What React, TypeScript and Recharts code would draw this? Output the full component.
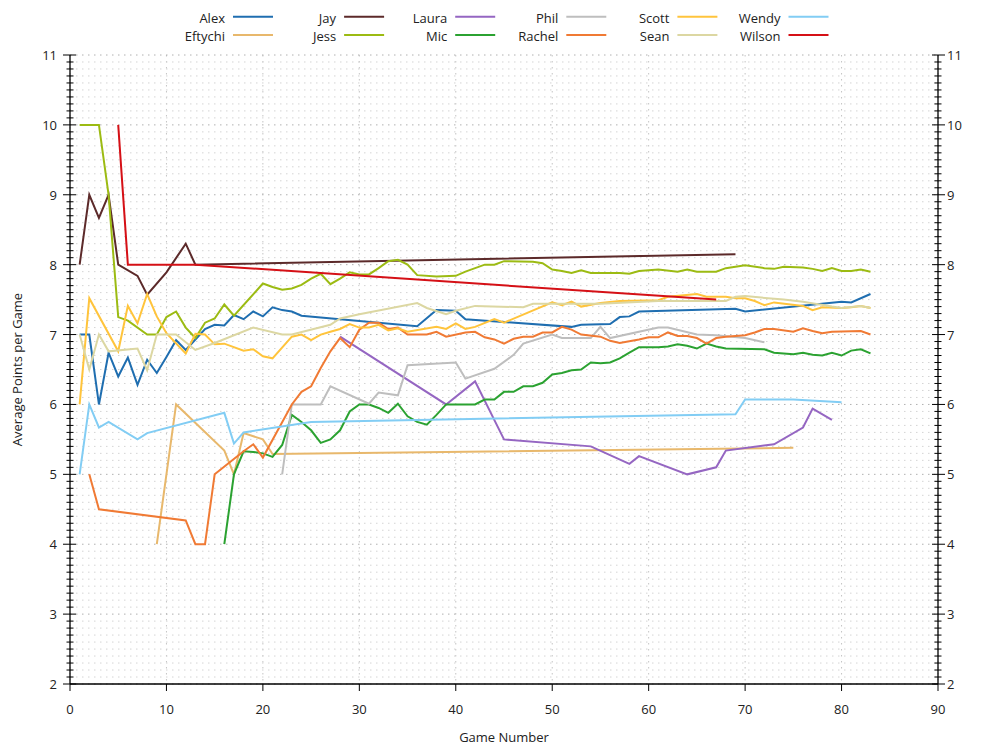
import React from 'react';
import { LineChart, Line, XAxis, YAxis, CartesianGrid, ReferenceLine, Label } from 'recharts';

type P = [number, number];

const ALEX: P[] = [[1,7.0],[2,7.0],[3,6.0],[4,6.74],[5,6.4],[6,6.67],[7,6.28],[8,6.64],[9,6.45],[10,6.68],[11,6.92],[12,6.78],[13,6.93],[14,7.08],[15,7.14],[16,7.13],[17,7.28],[18,7.22],[19,7.33],[20,7.26],[21,7.39],[22,7.35],[23,7.33],[24,7.27],[36,7.12],[38,7.35],[40,7.34],[41,7.22],[52,7.11],[53,7.14],[56,7.15],[57,7.25],[58,7.26],[59,7.33],[69,7.37],[70,7.33],[80,7.47],[81,7.46],[83,7.58]];
const EFTYCHI: P[] = [[9,4.0],[11,6.0],[16,5.34],[17,5.0],[18,5.59],[20,5.5],[21,5.29],[75,5.38]];
const JAY: P[] = [[1,8.0],[2,9.0],[3,8.67],[4,9.0],[5,8.0],[7,7.84],[8,7.57],[10,7.89],[12,8.3],[13,8.0],[69,8.15]];
const JESS: P[] = [[1,10],[2,10],[3,10],[4,9.0],[5,7.25],[6,7.2],[8,7.0],[9,7.0],[10,7.25],[11,7.33],[12,7.1],[13,6.95],[14,7.17],[15,7.23],[16,7.43],[17,7.27],[20,7.73],[21,7.68],[22,7.64],[23,7.66],[24,7.71],[25,7.8],[26,7.87],[27,7.72],[28,7.8],[29,7.89],[30,7.86],[31,7.86],[32,7.95],[33,8.05],[34,8.07],[35,8.0],[36,7.85],[38,7.83],[40,7.84],[41,7.9],[43,8.0],[44,8.0],[45,8.05],[48,8.04],[49,8.02],[50,7.93],[51,7.91],[52,7.88],[53,7.92],[54,7.88],[55,7.88],[57,7.88],[58,7.87],[59,7.91],[61,7.93],[63,7.9],[64,7.93],[65,7.9],[67,7.9],[68,7.95],[70,7.99],[72,7.95],[73,7.94],[74,7.97],[76,7.96],[77,7.94],[78,7.91],[79,7.95],[80,7.91],[81,7.91],[82,7.93],[83,7.9]];
const LAURA: P[] = [[28,6.97],[39,6.0],[42,6.33],[45,5.5],[54,5.4],[58,5.15],[59,5.26],[64,5.0],[67,5.1],[68,5.34],[73,5.43],[76,5.67],[77,5.94],[79,5.78]];
const MIC: P[] = [[16,4.0],[17,5.0],[18,5.33],[19,5.32],[20,5.3],[21,5.25],[22,5.42],[23,5.85],[24,5.75],[25,5.63],[26,5.45],[27,5.5],[28,5.63],[29,5.9],[30,6.0],[31,6.0],[32,5.95],[33,5.88],[34,6.01],[35,5.83],[36,5.75],[37,5.71],[38,5.85],[39,6.0],[42,6.0],[43,6.07],[44,6.07],[45,6.18],[46,6.18],[47,6.26],[48,6.26],[49,6.31],[50,6.43],[51,6.45],[52,6.49],[53,6.5],[54,6.6],[55,6.59],[56,6.6],[57,6.66],[58,6.74],[59,6.82],[61,6.82],[62,6.83],[63,6.86],[64,6.84],[65,6.8],[66,6.87],[67,6.83],[68,6.8],[72,6.79],[73,6.74],[75,6.72],[76,6.74],[77,6.71],[78,6.7],[79,6.74],[80,6.7],[81,6.77],[82,6.79],[83,6.73]];
const PHIL: P[] = [[22,5.0],[23,6.0],[26,6.0],[27,6.26],[31,6.01],[32,6.17],[34,6.13],[35,6.56],[40,6.6],[41,6.37],[44,6.51],[46,6.71],[47,6.87],[50,7.0],[51,6.95],[54,6.95],[55,7.11],[56,6.95],[61,7.1],[62,7.1],[65,7.0],[67,6.99],[70,6.95],[72,6.89]];
const RACHEL: P[] = [[2,5.0],[3,4.5],[12,4.34],[13,4.0],[14,4.0],[15,5.0],[18,5.33],[19,5.43],[20,5.24],[23,6.0],[24,6.18],[25,6.26],[26,6.52],[27,6.76],[28,6.95],[29,6.82],[30,7.07],[31,7.17],[32,7.17],[33,7.08],[34,7.1],[35,7.0],[37,7.0],[38,7.04],[39,6.97],[41,7.03],[42,7.04],[43,6.96],[44,6.93],[45,6.87],[46,6.94],[47,6.97],[48,6.97],[49,7.03],[50,7.03],[51,7.11],[52,7.07],[53,7.0],[55,6.97],[56,6.91],[57,6.88],[59,6.93],[60,6.96],[61,6.96],[62,7.03],[63,6.98],[64,6.98],[65,6.95],[66,6.87],[67,6.95],[68,6.97],[70,6.99],[71,7.03],[72,7.08],[73,7.08],[75,7.04],[76,7.09],[77,7.05],[78,7.02],[79,7.04],[82,7.05],[83,7.0]];
const SCOTT: P[] = [[1,6.0],[2,7.52],[5,6.76],[6,7.41],[7,7.16],[8,7.58],[9,7.26],[10,7.02],[12,6.73],[13,7.01],[14,7.0],[15,6.86],[16,6.87],[18,6.77],[19,6.79],[20,6.69],[21,6.66],[23,6.97],[24,7.0],[25,6.92],[26,7.0],[27,7.04],[28,7.08],[29,7.15],[30,7.1],[31,7.1],[32,7.14],[33,7.06],[34,7.09],[35,7.04],[38,7.11],[39,7.08],[40,7.16],[41,7.08],[42,7.11],[44,7.22],[45,7.17],[50,7.46],[51,7.42],[52,7.47],[53,7.4],[55,7.45],[57,7.48],[61,7.49],[62,7.54],[65,7.58],[66,7.54],[68,7.54],[69,7.52],[70,7.52],[71,7.48],[72,7.42],[73,7.46],[76,7.41],[77,7.35],[78,7.39],[80,7.38],[81,7.39],[82,7.41],[83,7.38]];
const SEAN: P[] = [[1,7.0],[2,6.5],[3,7.0],[4,6.76],[7,6.8],[8,6.49],[9,7.0],[11,7.0],[13,6.78],[15,6.88],[19,7.1],[22,7.0],[23,7.0],[27,7.14],[28,7.23],[30,7.29],[36,7.45],[37,7.38],[39,7.29],[40,7.34],[42,7.41],[47,7.39],[48,7.44],[55,7.44],[61,7.48],[68,7.48],[69,7.54],[70,7.55],[74,7.5],[76,7.47],[79,7.4],[80,7.38],[82,7.41],[83,7.38]];
const WENDY: P[] = [[1,5.0],[2,6.0],[3,5.67],[4,5.75],[7,5.5],[8,5.59],[16,5.88],[17,5.44],[18,5.6],[25,5.75],[69,5.86],[70,6.07],[75,6.07],[80,6.03]];
const WILSON: P[] = [[5,10.0],[6,8.0],[13,8.0],[67,7.5]];

const NAMES = ['Alex','Eftychi','Jay','Jess','Laura','Mic','Phil','Rachel','Scott','Sean','Wendy','Wilson'];
const COLORS = ['#1f6eb0','#e8b86c','#5c2a2a','#9cbb13','#9566c2','#2ba231','#bebebe','#f07a34','#ffc43c','#dcd7a2','#82cdf4','#d51016'];
const POINTS = [ALEX, EFTYCHI, JAY, JESS, LAURA, MIC, PHIL, RACHEL, SCOTT, SEAN, WENDY, WILSON];

const X_TICKS = [0,10,20,30,40,50,60,70,80,90];
const Y_MAJOR = [2,3,4,5,6,7,8,9,10,11];
const Y_MINOR = Array.from({ length: 91 }, (_, i) => Math.round((2 + i * 0.1) * 10) / 10);

const FONT = '"Open Sans", "Noto Sans", sans-serif';

const isMajor = (v: number) => Math.abs(v - Math.round(v)) < 1e-6;

const LeftTick = (props: any) => {
  const { x, y, payload } = props;
  const v = payload.value;
  const m = isMajor(v);
  return (
    <g>
      <line x1={x - (m ? 7 : 3.5)} x2={x + (m ? 6 : 3.5)} y1={y} y2={y} stroke="#000" strokeWidth={1} />
      {m && (
        <text x={x - 13} y={y} textAnchor="end" dominantBaseline="central" fontSize={13} fontFamily={FONT} fill="#222">
          {Math.round(v)}
        </text>
      )}
    </g>
  );
};

const RightTick = (props: any) => {
  const { x, y, payload } = props;
  const v = payload.value;
  const m = isMajor(v);
  return (
    <g>
      <line x1={x - (m ? 6 : 3.5)} x2={x + (m ? 7 : 3.5)} y1={y} y2={y} stroke="#000" strokeWidth={1} />
      {m && (
        <text x={x + 9} y={y} textAnchor="start" dominantBaseline="central" fontSize={13} fontFamily={FONT} fill="#222">
          {Math.round(v)}
        </text>
      )}
    </g>
  );
};

const Legend12 = () => (
  <svg width={1000} height={50} style={{ position: 'absolute', left: 0, top: 0 }}>
    {NAMES.map((n, i) => {
      const col = Math.floor(i / 2);
      const row = i % 2;
      const tx = 225 + col * 111.1;
      const ty = row === 0 ? 17.5 : 35.7;
      return (
        <g key={n}>
          <text x={tx} y={ty} textAnchor="end" dominantBaseline="central" fontSize={13} fontFamily={FONT} fill="#222">{n}</text>
          <line x1={tx + 8} x2={tx + 48} y1={ty - 0.8} y2={ty - 0.8} stroke={COLORS[i]} strokeWidth={2} />
        </g>
      );
    })}
  </svg>
);

export default function App() {
  return (
    <div style={{ position: 'absolute', left: 0, top: 0, width: 1000, height: 750, background: '#fff' }}>
      <LineChart width={1000} height={750} margin={{ top: 55, right: 12, bottom: 16, left: 10 }}>
        <CartesianGrid horizontal={false} vertical={true} stroke="#c4c4c4" strokeDasharray="1.5 4.5" />
        {Y_MINOR.map((v) => (
          <ReferenceLine key={'m' + v} y={v} yAxisId="left" stroke={isMajor(v) ? '#b0b0b0' : '#d4d4d4'} strokeDasharray="1.5 4.5" strokeWidth={1} />
        ))}
        <XAxis
          type="number"
          dataKey="g"
          domain={[0, 90]}
          ticks={X_TICKS}
          interval={0}
          allowDataOverflow
          tickSize={7}
          tickMargin={14}
          height={50}
          axisLine={{ stroke: '#000', strokeWidth: 1.3 }}
          tickLine={{ stroke: '#000' }}
          tick={{ fontSize: 13, fontFamily: FONT, fill: '#222' }}
        >
          <Label
            content={(p: any) => {
              const vb = p.viewBox;
              return (
                <text x={vb.x + vb.width / 2} y={vb.y + 53} textAnchor="middle" dominantBaseline="central" fontSize={13} fontFamily={FONT} fill="#222">
                  Game Number
                </text>
              );
            }}
          />
        </XAxis>
        <YAxis
          yAxisId="left"
          type="number"
          domain={[2, 11]}
          ticks={Y_MINOR}
          interval={0}
          allowDataOverflow
          width={60}
          tickSize={0}
          tickMargin={0}
          axisLine={{ stroke: '#000', strokeWidth: 1.3 }}
          tickLine={false}
          tick={<LeftTick />}
        >
          <Label
            content={(p: any) => {
              const vb = p.viewBox;
              const cx = vb.x + 7;
              const cy = vb.y + vb.height / 2;
              return (
                <text x={cx} y={cy} transform={`rotate(-90, ${cx}, ${cy})`} textAnchor="middle" dominantBaseline="central" fontSize={13} fontFamily={FONT} fill="#222">
                  Average Points per Game
                </text>
              );
            }}
          />
        </YAxis>
        <YAxis
          yAxisId="right"
          orientation="right"
          type="number"
          domain={[2, 11]}
          ticks={Y_MINOR}
          interval={0}
          allowDataOverflow
          width={50}
          tickSize={0}
          tickMargin={0}
          axisLine={{ stroke: '#000', strokeWidth: 1.3 }}
          tickLine={false}
          tick={<RightTick />}
        />
        {POINTS.map((pts, i) => (
          <Line
            key={NAMES[i]}
            yAxisId="left"
            name={NAMES[i]}
            data={pts.map(([g, v]) => ({ g, v }))}
            dataKey="v"
            type="linear"
            stroke={COLORS[i]}
            strokeWidth={2}
            dot={false}
            activeDot={false}
            isAnimationActive={false}
          />
        ))}
      </LineChart>
      <Legend12 />
    </div>
  );
}
